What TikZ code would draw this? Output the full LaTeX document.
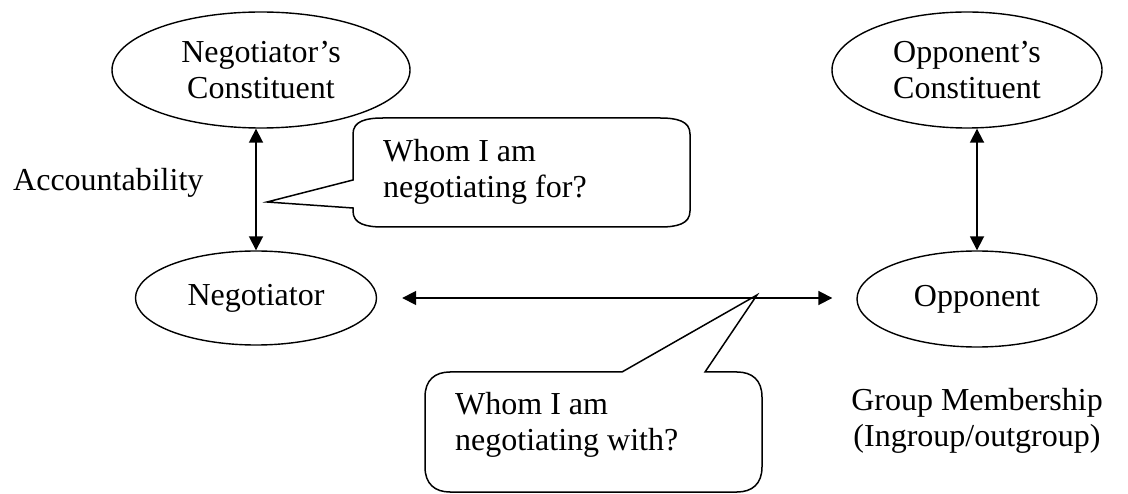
\documentclass[tikz,border=0pt]{standalone}
\usepackage{fontspec}
\setmainfont{Liberation Serif}
\usetikzlibrary{shapes,arrows,arrows.meta,positioning}

\begin{document}
\begin{tikzpicture}[x=1pt,y=-1pt,
		every node/.style={font=\fontsize{32}{35.5}\selectfont,inner sep=0pt},
		party/.style={ellipse,draw,line width=1.4pt,align=center},
		link/.style={<->,>={Triangle[length=14pt,width=14pt]},line width=1.8pt},
		bubble/.style={draw,line width=1.5pt}]
			\useasboundingbox (0,0) rectangle (1128,494);
			\node[party,minimum width=298pt,minimum height=116pt] (negcon) at (261,70) {Negotiator’s\\Constituent};
			\node[party,minimum width=270pt,minimum height=116pt] (oppcon) at (967,70) {Opponent’s\\Constituent};
			\node[party,minimum width=241pt,minimum height=94pt] (neg) at (256,298) {Negotiator};
			\node[party,minimum width=240pt,minimum height=96pt] (opp) at (977,299) {Opponent};
			\node[anchor=west] (account) at (13,183) {Accountability};
			\node[align=center] (group) at (977,421) {Group Membership\\(Ingroup/outgroup)};
			% callouts
			\coordinate (fortip) at (267,202);
			\coordinate (withtip) at (757,295);
			\draw[bubble] (353,208) -- (fortip) -- (353,180) -- (353,134) .. controls (353,121) and (366,118) .. (383,118) -- (660,118) .. controls (677,118) and (690,121) .. (690,134) -- (690,211) .. controls (690,224) and (677,227) .. (660,227) -- (383,227) .. controls (366,227) and (353,224) .. (353,211) -- cycle;
			\draw[bubble] (622,372) -- (withtip) -- (705,372) -- (737,372) .. controls (752,372) and (762,380) .. (762,397) -- (762,467) .. controls (762,484) and (752,492) .. (737,492) -- (450,492) .. controls (435,492) and (425,484) .. (425,467) -- (425,397) .. controls (425,380) and (435,372) .. (450,372) -- cycle;
			\node[anchor=west,align=left] (fortext) at (383,172) {Whom I am\\negotiating for?};
			\node[anchor=west,align=left] (withtext) at (455,425) {Whom I am\\negotiating with?};
			% arrows
			\draw[link] (negcon.south -| neg.north) -- (neg.north);
			\draw[link] (oppcon.south -| opp.north) -- (opp.north);
			\draw[link,shorten <=25pt,shorten >=24pt] (neg.east) -- (neg.east -| opp.west);
		\end{tikzpicture}
\end{document}
